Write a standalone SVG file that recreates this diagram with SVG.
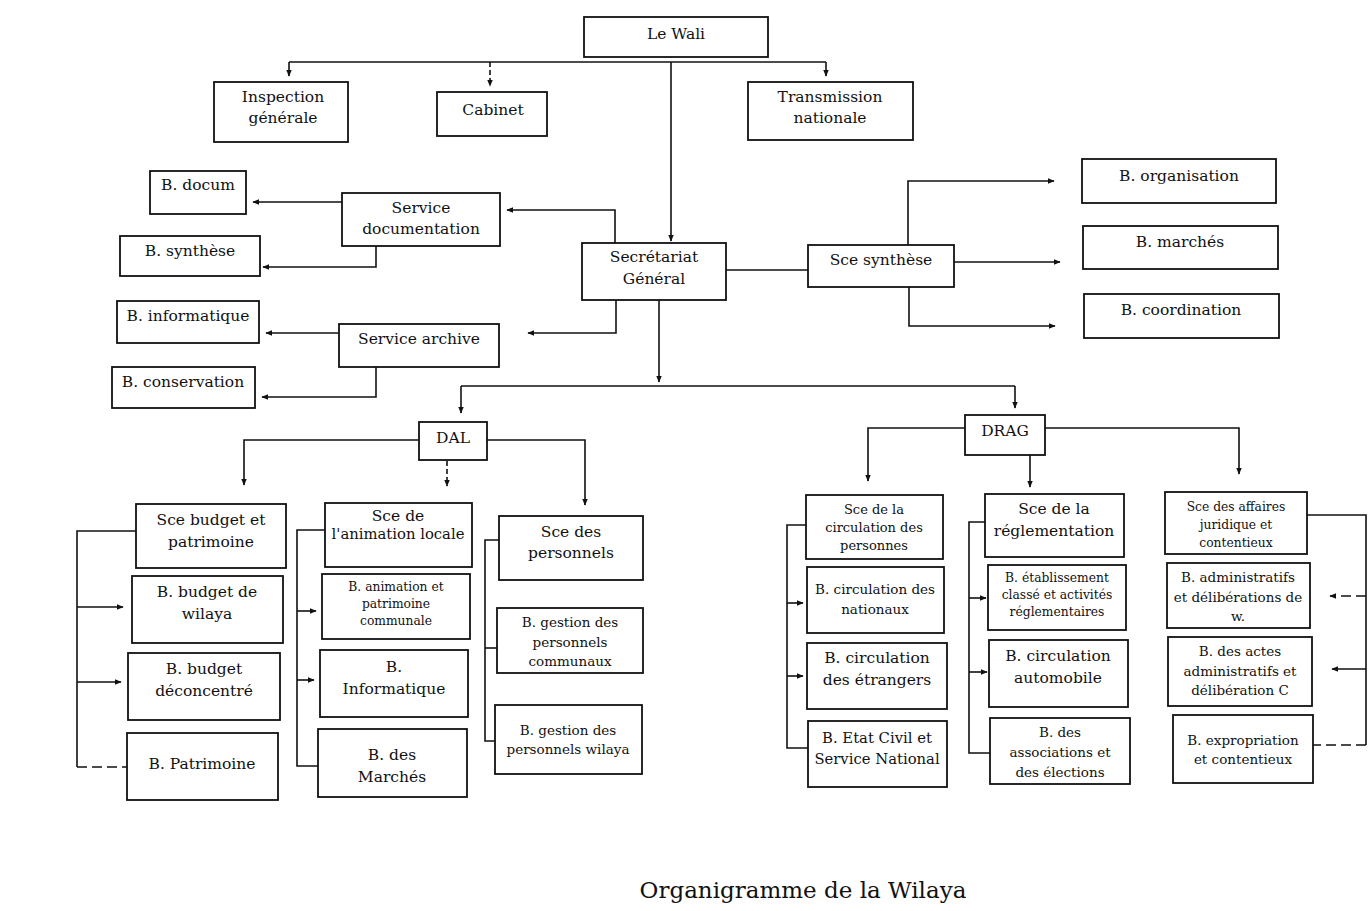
<svg xmlns="http://www.w3.org/2000/svg" width="1370" height="911" viewBox="0 0 1370 911">
<style>
.b{fill:#fff;stroke:#111;stroke-width:1.8}
.c{fill:none;stroke:#111;stroke-width:1.6}
.d{stroke-dasharray:10 5}
.t{stroke-dasharray:5 3}
text{font-family:"DejaVu Serif","Liberation Serif",serif;fill:#111;text-anchor:middle;font-size:15.5px}
.s{font-size:12.3px}
.m{font-size:13.5px}
.n{font-size:13px}
.w{font-size:14.8px}
.cap{font-size:23px}
</style>
<defs>
<marker id="a" viewBox="0 0 10 10" refX="9" refY="5" markerWidth="7" markerHeight="7" markerUnits="userSpaceOnUse" orient="auto"><path d="M0,1 L10,5 L0,9 z" fill="#111"/></marker>
</defs>
<rect width="1370" height="911" fill="#fff"/>
<g id="connectors">
<path class="c" d="M289,62 H826"/>
<path class="c" d="M289,62 V76" marker-end="url(#a)"/>
<path class="c t" d="M490,62 V86" marker-end="url(#a)"/>
<path class="c" d="M826,62 V76" marker-end="url(#a)"/>
<path class="c" d="M671,62 V241" marker-end="url(#a)"/>
<path class="c" d="M615,243 V210 H507" marker-end="url(#a)"/>
<path class="c" d="M616,300 V333 H528" marker-end="url(#a)"/>
<path class="c" d="M342,202 H253" marker-end="url(#a)"/>
<path class="c" d="M376,246 V267 H263" marker-end="url(#a)"/>
<path class="c" d="M339,333 H266" marker-end="url(#a)"/>
<path class="c" d="M376,367 V397 H262" marker-end="url(#a)"/>
<path class="c" d="M726,270 H808"/>
<path class="c" d="M908,245 V181 H1054" marker-end="url(#a)"/>
<path class="c" d="M954,262 H1060" marker-end="url(#a)"/>
<path class="c" d="M909,287 V326 H1055" marker-end="url(#a)"/>
<path class="c" d="M659,300 V382" marker-end="url(#a)"/>
<path class="c" d="M461,386 H1015"/>
<path class="c" d="M461,386 V413" marker-end="url(#a)"/>
<path class="c" d="M1015,386 V408" marker-end="url(#a)"/>
<path class="c" d="M419,440 H244 V485" marker-end="url(#a)"/>
<path class="c" d="M487,440 H585 V505" marker-end="url(#a)"/>
<path class="c t" d="M447,461 V486" marker-end="url(#a)"/>
<path class="c" d="M136,531 H77 V767"/>
<path class="c d" d="M77,767 H127"/>
<path class="c" d="M77,607 H123" marker-end="url(#a)"/>
<path class="c" d="M77,682 H121" marker-end="url(#a)"/>
<path class="c" d="M325,530 H297 V766 H318"/>
<path class="c" d="M297,611 H316" marker-end="url(#a)"/>
<path class="c" d="M297,680 H314" marker-end="url(#a)"/>
<path class="c" d="M499,540 H485 V741 H495"/>
<path class="c" d="M485,648 H497"/>
<path class="c" d="M965,428 H868 V481" marker-end="url(#a)"/>
<path class="c" d="M1045,428 H1239 V474" marker-end="url(#a)"/>
<path class="c" d="M1030,455 V487" marker-end="url(#a)"/>
<path class="c" d="M806,525 H787 V748 H808"/>
<path class="c" d="M787,603 H803" marker-end="url(#a)"/>
<path class="c" d="M787,676 H803" marker-end="url(#a)"/>
<path class="c" d="M985,522 H969 V753 H990"/>
<path class="c" d="M969,598 H986" marker-end="url(#a)"/>
<path class="c" d="M969,672 H987" marker-end="url(#a)"/>
<path class="c" d="M1307,515 H1366 V745"/>
<path class="c d" d="M1366,745 H1313"/>
<path class="c d" d="M1366,596 H1330" marker-end="url(#a)"/>
<path class="c" d="M1366,669 H1332" marker-end="url(#a)"/>
</g>
<g id="wali"><rect class="b" x="584" y="17" width="184" height="40"/><text x="676" y="39">Le Wali</text></g>
<g id="inspection"><rect class="b" x="214" y="82" width="134" height="60"/><text x="283" y="102">Inspection</text><text x="283" y="123">générale</text></g>
<g id="cabinet"><rect class="b" x="437" y="92" width="110" height="44"/><text x="493" y="115">Cabinet</text></g>
<g id="transmission"><rect class="b" x="748" y="82" width="165" height="58"/><text x="830" y="102">Transmission</text><text x="830" y="123">nationale</text></g>
<g id="secretariat"><rect class="b" x="582" y="243" width="144" height="57"/><text x="654" y="262">Secrétariat</text><text x="654" y="284">Général</text></g>
<g id="sce-synthese"><rect class="b" x="808" y="245" width="146" height="42"/><text x="881" y="265">Sce synthèse</text></g>
<g id="b-organisation"><rect class="b" x="1082" y="159" width="194" height="44"/><text x="1179" y="181">B. organisation</text></g>
<g id="b-marches"><rect class="b" x="1083" y="226" width="195" height="43"/><text x="1180" y="247">B. marchés</text></g>
<g id="b-coordination"><rect class="b" x="1084" y="294" width="195" height="44"/><text x="1181" y="315">B. coordination</text></g>
<g id="service-documentation"><rect class="b" x="342" y="193" width="158" height="53"/><text x="421" y="213">Service</text><text x="421" y="234">documentation</text></g>
<g id="b-docum"><rect class="b" x="150" y="171" width="96" height="43"/><text x="198" y="190">B. docum</text></g>
<g id="b-synthese"><rect class="b" x="120" y="236" width="140" height="40"/><text x="190" y="256">B. synthèse</text></g>
<g id="service-archive"><rect class="b" x="339" y="324" width="160" height="43"/><text x="419" y="344">Service archive</text></g>
<g id="b-informatique"><rect class="b" x="117" y="301" width="142" height="42"/><text x="188" y="321">B. informatique</text></g>
<g id="b-conservation"><rect class="b" x="112" y="367" width="143" height="41"/><text x="183" y="387">B. conservation</text></g>
<g id="dal"><rect class="b" x="419" y="422" width="68" height="38"/><text x="453" y="443">DAL</text></g>
<g id="drag"><rect class="b" x="965" y="415" width="80" height="40"/><text x="1005" y="436">DRAG</text></g>
<g id="sce-budget"><rect class="b" x="136" y="504" width="150" height="64"/><text x="211" y="525">Sce budget et</text><text x="211" y="547">patrimoine</text></g>
<g id="b-budget-wilaya"><rect class="b" x="132" y="576" width="151" height="67"/><text x="207" y="597">B. budget de</text><text x="207" y="619">wilaya</text></g>
<g id="b-budget-deconcentre"><rect class="b" x="128" y="653" width="152" height="67"/><text x="204" y="674">B. budget</text><text x="204" y="696">déconcentré</text></g>
<g id="b-patrimoine"><rect class="b" x="127" y="733" width="151" height="67"/><text x="202" y="769">B. Patrimoine</text></g>
<g id="sce-animation"><rect class="b" x="325" y="503" width="147" height="64"/><text x="398" y="521">Sce de</text><text class="w" x="398" y="539">l'animation locale</text></g>
<g id="b-animation"><rect class="b" x="322" y="574" width="148" height="65"/><text class="s" x="396" y="591">B. animation et</text><text class="s" x="396" y="608">patrimoine</text><text class="s" x="396" y="625">communale</text></g>
<g id="b-informatique-dal"><rect class="b" x="320" y="650" width="148" height="67"/><text x="394" y="672">B.</text><text x="394" y="694">Informatique</text></g>
<g id="b-des-marches"><rect class="b" x="318" y="729" width="149" height="68"/><text x="392" y="760">B. des</text><text x="392" y="782">Marchés</text></g>
<g id="sce-personnels"><rect class="b" x="499" y="516" width="144" height="64"/><text x="571" y="537">Sce des</text><text x="571" y="558">personnels</text></g>
<g id="b-gestion-communaux"><rect class="b" x="497" y="608" width="146" height="65"/><text class="m" x="570" y="627">B. gestion des</text><text class="m" x="570" y="647">personnels</text><text class="m" x="570" y="666">communaux</text></g>
<g id="b-gestion-wilaya"><rect class="b" x="495" y="705" width="147" height="69"/><text class="m" x="568" y="735">B. gestion des</text><text class="m" x="568" y="754">personnels wilaya</text></g>
<g id="sce-circulation"><rect class="b" x="806" y="495" width="137" height="64"/><text class="n" x="874" y="514">Sce de la</text><text class="n" x="874" y="532">circulation des</text><text class="n" x="874" y="550">personnes</text></g>
<g id="b-circ-nationaux"><rect class="b" x="807" y="567" width="137" height="66"/><text class="m" x="875" y="594">B. circulation des</text><text class="m" x="875" y="614">nationaux</text></g>
<g id="b-circ-etrangers"><rect class="b" x="807" y="643" width="140" height="66"/><text x="877" y="663">B. circulation</text><text x="877" y="685">des étrangers</text></g>
<g id="b-etat-civil"><rect class="b" x="808" y="721" width="139" height="66"/><text class="w" x="877" y="743">B. Etat Civil et</text><text class="w" x="877" y="764">Service National</text></g>
<g id="sce-reglementation"><rect class="b" x="985" y="494" width="139" height="63"/><text x="1054" y="514">Sce de la</text><text x="1054" y="536">réglementation</text></g>
<g id="b-etablissement"><rect class="b" x="988" y="565" width="138" height="65"/><text class="s" x="1057" y="582">B. établissement</text><text class="s" x="1057" y="599">classé et activités</text><text class="s" x="1057" y="616">réglementaires</text></g>
<g id="b-circ-automobile"><rect class="b" x="989" y="640" width="139" height="67"/><text x="1058" y="661">B. circulation</text><text x="1058" y="683">automobile</text></g>
<g id="b-associations"><rect class="b" x="990" y="718" width="140" height="66"/><text class="m" x="1060" y="737">B. des</text><text class="m" x="1060" y="757">associations et</text><text class="m" x="1060" y="777">des élections</text></g>
<g id="sce-affaires"><rect class="b" x="1165" y="492" width="142" height="62"/><text class="s" x="1236" y="511">Sce des affaires</text><text class="s" x="1236" y="529">juridique et</text><text class="s" x="1236" y="547">contentieux</text></g>
<g id="b-administratifs"><rect class="b" x="1167" y="563" width="143" height="65"/><text class="m" x="1238" y="582">B. administratifs</text><text class="m" x="1238" y="602">et délibérations de</text><text class="m" x="1238" y="621">w.</text></g>
<g id="b-actes"><rect class="b" x="1168" y="637" width="144" height="69"/><text class="m" x="1240" y="656">B. des actes</text><text class="m" x="1240" y="676">administratifs et</text><text class="m" x="1240" y="695">délibération C</text></g>
<g id="b-expropriation"><rect class="b" x="1173" y="715" width="140" height="68"/><text class="m" x="1243" y="745">B. expropriation</text><text class="m" x="1243" y="764">et contentieux</text></g>
<text class="cap" x="803" y="898">Organigramme de la Wilaya</text>
</svg>
